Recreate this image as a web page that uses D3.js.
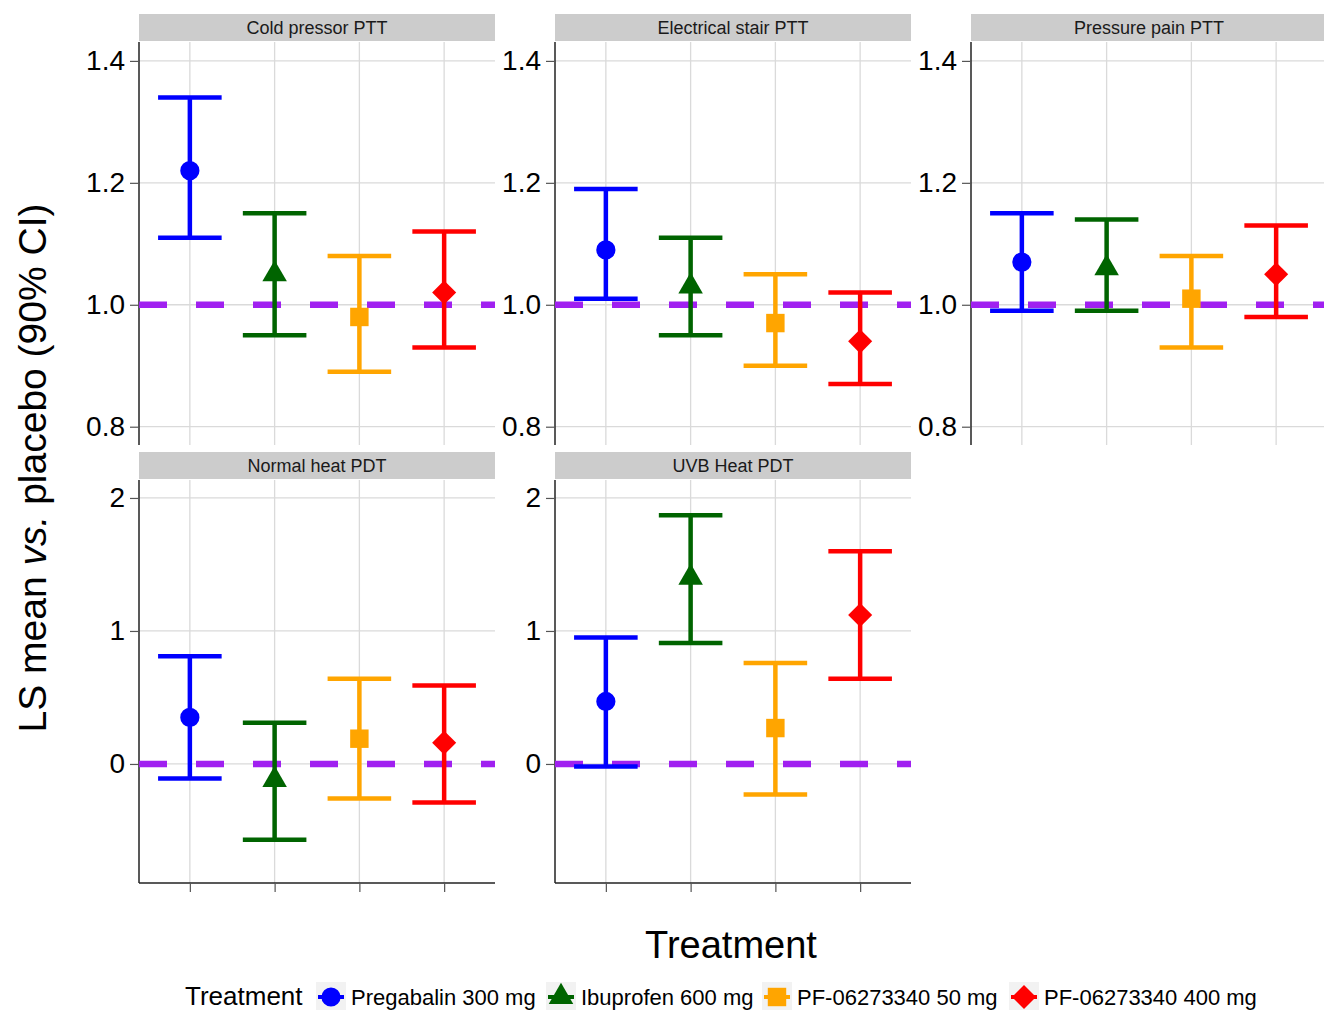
<!DOCTYPE html>
<html><head><meta charset="utf-8">
<script src="https://cdn.jsdelivr.net/npm/d3@7"></script>
<style>body{margin:0;background:#fff}svg{display:block;font-family:Arial,"Liberation Sans",sans-serif}</style>
</head><body><svg id="c" width="1324" height="1010"></svg>
<script>
const treatments = ["Pregabalin 300 mg","Ibuprofen 600 mg","PF-06273340 50 mg","PF-06273340 400 mg"];
const colors = ["#0000FF","#006400","#FFA500","#FF0000"];
const shapes = ["circle","triangle","square","diamond"];
const panels = ["Cold pressor PTT","Electrical stair PTT","Pressure pain PTT","Normal  heat PDT","UVB Heat PDT"];
// estimate, lower, upper per panel (treatment order)
const coldEst = [1.22,1.05,0.98,1.02], coldLo = [1.11,0.95,0.89,0.93], coldHi = [1.34,1.15,1.08,1.12];
const elecEst = [1.09,1.03,0.97,0.94], elecLo = [1.01,0.95,0.90,0.87], elecHi = [1.19,1.11,1.05,1.02];
const presEst = [1.07,1.06,1.01,1.05], presLo = [0.99,0.99,0.93,0.98], presHi = [1.15,1.14,1.08,1.13];
const normEst = [0.35,-0.12,0.19,0.16], normLo = [-0.11,-0.57,-0.26,-0.29], normHi = [0.81,0.31,0.64,0.59];
const uvbEst = [0.47,1.40,0.27,1.12], uvbLo = [-0.02,0.91,-0.23,0.64], uvbHi = [0.95,1.87,0.76,1.60];
const topTicks = [0.8,1.0,1.2,1.4], botTicks = [0,1,2];
const topDomain = [0.77,1.431], botDomain = [-0.895,2.135];
const refTop = 1.0, refBot = 0;

const svg = d3.select("#c");
const W = 356;
const facetData = [
  {name:panels[0], est:coldEst, lo:coldLo, hi:coldHi, left:139, top:42, h:403, dom:topDomain, ticks:topTicks, ref:refTop, fmt:d3.format(".1f"), xaxis:false},
  {name:panels[1], est:elecEst, lo:elecLo, hi:elecHi, left:555, top:42, h:403, dom:topDomain, ticks:topTicks, ref:refTop, fmt:d3.format(".1f"), xaxis:false},
  {name:panels[2], est:presEst, lo:presLo, hi:presHi, left:971, top:42, h:403, dom:topDomain, ticks:topTicks, ref:refTop, fmt:d3.format(".1f"), xaxis:false},
  {name:panels[3], est:normEst, lo:normLo, hi:normHi, left:139, top:480, h:403, dom:botDomain, ticks:botTicks, ref:refBot, fmt:d3.format("d"), xaxis:true},
  {name:panels[4], est:uvbEst, lo:uvbLo, hi:uvbHi, left:555, top:480, h:403, dom:botDomain, ticks:botTicks, ref:refBot, fmt:d3.format("d"), xaxis:true}
];

const diamond = {draw(ctx, size){const r=Math.sqrt(size/2);ctx.moveTo(0,-r);ctx.lineTo(r,0);ctx.lineTo(0,r);ctx.lineTo(-r,0);ctx.closePath();}};
const symType = {circle:d3.symbolCircle, triangle:d3.symbolTriangle, square:d3.symbolSquare, diamond:diamond};
const symSize = {circle:290, triangle:260, square:340, diamond:290};

facetData.forEach(f => {
  const g = svg.append("g");
  const x = d3.scalePoint().domain(treatments).range([f.left, f.left+W]).padding(0.6);
  const y = d3.scaleLinear().domain(f.dom).range([f.top+f.h, f.top]);
  const right = Math.min(f.left+W, 1324);
  // strip
  g.append("rect").attr("x", f.left).attr("y", f.top-28).attr("width", right-f.left).attr("height", 27).attr("fill", "#CCCCCC");
  g.append("text").attr("x", f.left+W/2).attr("y", f.top-8).attr("text-anchor","middle").attr("font-size",18).attr("fill","#1A1A1A").text(f.name);
  // grid
  const clip = g.append("g");
  clip.selectAll("line.hg").data(f.ticks).join("line").attr("x1", f.left).attr("x2", right).attr("y1", d=>y(d)).attr("y2", d=>y(d)).attr("stroke","#DADADA").attr("stroke-width",1.3);
  clip.selectAll("line.vg").data(treatments).join("line").attr("x1", d=>x(d)).attr("x2", d=>x(d)).attr("y1", f.top).attr("y2", f.top+f.h).attr("stroke","#DADADA").attr("stroke-width",1.3);
  // y axis
  const ya = d3.axisLeft(y).tickValues(f.ticks).tickFormat(f.fmt).tickSize(9).tickPadding(5);
  const yg = g.append("g").attr("transform", `translate(${f.left},0)`).call(ya);
  yg.select(".domain").attr("d", `M0,${f.top}V${f.top+f.h}`).attr("stroke","#222").attr("stroke-width",1.5);
  yg.selectAll(".tick line").attr("stroke","#555").attr("stroke-width",1.2);
  yg.selectAll(".tick text").attr("font-size",28).attr("fill","#000").attr("font-family","Arial,'Liberation Sans',sans-serif");
  if (f.xaxis) {
    const xa = d3.axisBottom(x).tickSize(9).tickFormat("");
    const xg = g.append("g").attr("transform", `translate(0,${f.top+f.h})`).call(xa);
    xg.select(".domain").attr("d", `M${f.left},0H${f.left+W}`).attr("stroke","#222").attr("stroke-width",1.5);
    xg.selectAll(".tick line").attr("stroke","#555").attr("stroke-width",1.2);
  }
  // reference line
  g.append("line").attr("x1", f.left).attr("x2", right).attr("y1", y(f.ref)).attr("y2", y(f.ref))
    .attr("stroke","#A020F0").attr("stroke-width",6.5).attr("stroke-dasharray","28,29");
  // error bars
  const capW = x.step()*0.75;
  treatments.forEach((t,i) => {
    const eb = g.append("g").attr("stroke", colors[i]).attr("stroke-width",4.5).attr("fill","none");
    eb.append("line").attr("x1", x(t)).attr("x2", x(t)).attr("y1", y(f.lo[i])).attr("y2", y(f.hi[i]));
    eb.append("line").attr("x1", x(t)-capW/2).attr("x2", x(t)+capW/2).attr("y1", y(f.lo[i])).attr("y2", y(f.lo[i]));
    eb.append("line").attr("x1", x(t)-capW/2).attr("x2", x(t)+capW/2).attr("y1", y(f.hi[i])).attr("y2", y(f.hi[i]));
    g.append("path").attr("d", d3.symbol().type(symType[shapes[i]]).size(symSize[shapes[i]])())
      .attr("transform", `translate(${x(t)},${y(f.est[i])})`).attr("fill", colors[i]);
  });
});

// axis titles
const yt = svg.append("text").attr("transform","translate(46,468) rotate(-90)").attr("text-anchor","middle").attr("font-size",39).attr("fill","#000");
yt.append("tspan").text("LS mean ");
yt.append("tspan").attr("font-style","italic").text("vs.");
yt.append("tspan").text(" placebo (90% CI)");
svg.append("text").attr("x",731).attr("y",958).attr("text-anchor","middle").attr("font-size",38).attr("fill","#000").text("Treatment");

// legend
const lg = svg.append("g");
lg.append("text").attr("x",185).attr("y",1005).attr("font-size",26).attr("fill","#000").text("Treatment");
const keyX = [316, 546, 762, 1009];
treatments.forEach((t,i) => {
  const k = lg.append("g").attr("transform", `translate(${keyX[i]},982)`);
  k.append("rect").attr("width",30).attr("height",30).attr("fill","#F2F2F2");
  k.append("line").attr("x1",2).attr("x2",28).attr("y1",15).attr("y2",15).attr("stroke",colors[i]).attr("stroke-width",4);
  k.append("path").attr("d", d3.symbol().type(symType[shapes[i]]).size(symSize[shapes[i]])()).attr("transform","translate(15,15)").attr("fill",colors[i]);
  lg.append("text").attr("x", keyX[i]+35).attr("y",1005).attr("font-size",22).attr("fill","#000").text(t);
});
</script></body></html>
